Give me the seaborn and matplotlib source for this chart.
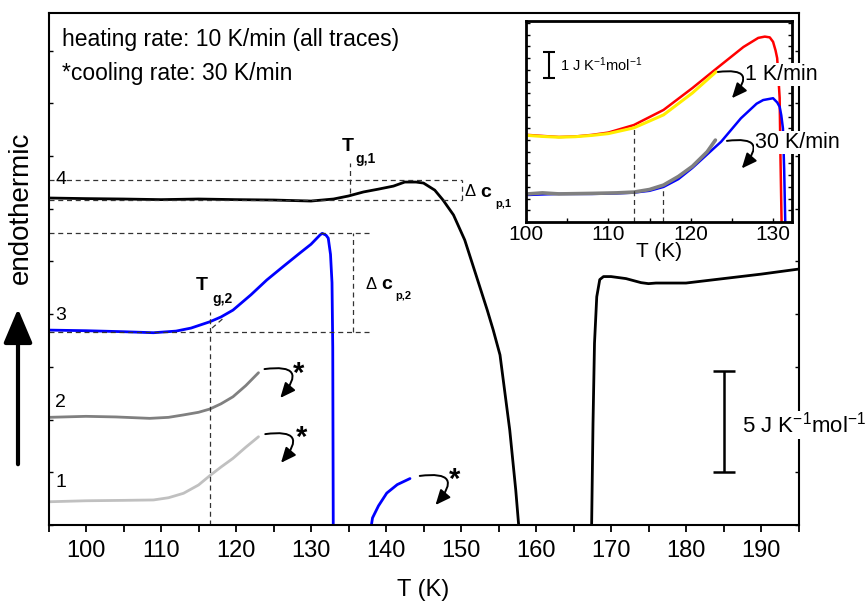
import numpy as np
import matplotlib
matplotlib.use("Agg")
import matplotlib.pyplot as plt
from matplotlib.ticker import MultipleLocator
import seaborn as sns

# ---- main panel data (T in K, y in J K^-1 mol^-1, arbitrary offsets) ----
t4a = [95, 100, 105, 110, 115, 120, 125, 130, 133, 135, 137, 139, 141, 142.5, 144, 145,
       146.5, 147.6, 149, 150.5, 152, 153.5, 154.3, 155.2, 156.5, 157.3, 157.8]
y4a = [16.19, 16.16, 16.14, 16.11, 16.14, 16.11, 16.09, 16.04, 16.14, 16.29, 16.49, 16.63,
       16.78, 16.98, 16.98, 16.93, 16.58, 16.09, 15.35, 14.11, 12.38, 10.64, 9.65, 8.42,
       4.70, 1.73, -0.5]
t4b = [167.4, 167.6, 167.8, 168.1, 168.5, 169, 170, 172, 174, 175, 176, 180, 185, 190, 195]
y4b = [-0.5, 5.0, 9.0, 11.3, 12.15, 12.3, 12.3, 12.2, 12.0, 11.95, 11.98, 11.98, 12.2, 12.42, 12.67]

t3a = [95, 100, 105, 109, 112, 114, 116.5, 118, 119.6, 122, 124.1, 126.3, 128.5, 130,
       131.2, 131.5, 132.0, 132.3, 132.6, 132.8, 132.9, 132.97]
y3a = [9.65, 9.62, 9.57, 9.52, 9.6, 9.75, 10.06, 10.3, 10.64, 11.4, 12.13, 12.8, 13.46,
       13.9, 14.36, 14.44, 14.35, 14.2, 13.4, 12.0, 8.8, -0.5]
t3b = [137.85, 138.2, 139, 140.1, 141.5, 143.2]
y3b = [-0.5, 0.35, 0.95, 1.58, 2.0, 2.3]

t2 = [95, 100, 104, 108.5, 111, 113, 115, 116.5, 118, 119.6, 121.3, 123]
y2 = [5.33, 5.38, 5.35, 5.28, 5.33, 5.45, 5.58, 5.74, 6.0, 6.35, 6.9, 7.54]
t1 = [95, 100, 105, 109, 111, 113, 115, 116.5, 118, 119.6, 121.3, 123]
y1 = [1.15, 1.2, 1.22, 1.24, 1.35, 1.57, 1.98, 2.44, 2.87, 3.30, 3.85, 4.37]

tg1, tg2 = 135.2, 116.5
dcp1_lo, dcp1_hi = 16.09, 17.08
dcp2_lo, dcp2_hi = 9.54, 14.46

# ---- inset data ----
ti_red = [100.2, 102, 104, 106, 108, 110, 113.1, 116.7, 120.2, 123.2, 126.4, 128.2, 129.0,
          129.6, 130.0, 130.3, 130.5, 130.7, 130.8, 130.9, 131.05]
yi_red = [3.35, 3.31, 3.27, 3.29, 3.35, 3.44, 3.73, 4.31, 5.15, 5.92, 6.73, 7.08, 7.13,
          7.1, 6.93, 6.6, 6.3, 5.3, 4.77, 2.5, -0.3]
ti_yel = [100.2, 102, 104, 106, 108, 110, 113.1, 116.7, 120.2, 123.1]
yi_yel = [3.33, 3.29, 3.26, 3.28, 3.33, 3.4, 3.62, 4.12, 4.96, 5.78]
ti_blu = [100.2, 102, 104, 108, 111, 113.1, 115, 116.7, 118.5, 120.2, 122, 123.7, 126.1,
          128.0, 128.8, 130.0, 130.5, 130.8, 131.0, 131.2, 131.35, 131.5]
yi_blu = [1.04, 1.06, 1.08, 1.08, 1.1, 1.13, 1.2, 1.35, 1.65, 2.08, 2.6, 3.09, 3.99,
          4.55, 4.69, 4.76, 4.6, 4.43, 4.1, 3.6, 2.0, -0.3]
ti_gry = [100.2, 102, 104, 108, 111, 113.1, 115, 116.7, 118.5, 120.2, 122, 123]
yi_gry = [1.08, 1.12, 1.08, 1.1, 1.12, 1.15, 1.25, 1.42, 1.75, 2.14, 2.7, 3.15]
tgi_1, tgi_30 = 113.1, 116.6

sns.set_style("ticks")
plt.rcParams["font.family"] = ["Liberation Sans", "DejaVu Sans"]
plt.rcParams["mathtext.fontset"] = "custom"
plt.rcParams["mathtext.rm"] = "Liberation Sans"
plt.rcParams["mathtext.it"] = "Liberation Sans:italic"
plt.rcParams["mathtext.bf"] = "Liberation Sans:bold"
for k in ["text.color", "axes.labelcolor", "xtick.color", "ytick.color", "axes.edgecolor"]:
    plt.rcParams[k] = "black"

fig = plt.figure(figsize=(8.68, 6.03), dpi=100)
ax = fig.add_axes([48.5 / 868, 78 / 603, 750 / 868, 512 / 603])

kw = dict(ax=ax, sort=False, estimator=None, legend=False)
sns.lineplot(x=t4a, y=y4a, color="black", lw=2.0, **kw)
sns.lineplot(x=t4b, y=y4b, color="black", lw=2.0, **kw)
sns.lineplot(x=t3a, y=y3a, color="#0000ff", lw=2.0, **kw)
sns.lineplot(x=t3b, y=y3b, color="#0000ff", lw=2.0, **kw)
sns.lineplot(x=t2, y=y2, color="#808080", lw=2.0, **kw)
sns.lineplot(x=t1, y=y1, color="#c0c0c0", lw=2.0, **kw)

dk = dict(color="#333333", lw=0.9, ls=(0, (4, 3)))
ax.plot([95, 150.1], [dcp1_hi, dcp1_hi], **dk)
ax.plot([95, 150.1], [dcp1_lo, dcp1_lo], **dk)
ax.plot([150.1, 150.1], [dcp1_lo, dcp1_hi], **dk)
ax.plot([tg1, tg1], [16.44, 17.92], **dk)
ax.plot([95, 137.9], [dcp2_hi, dcp2_hi], **dk)
ax.plot([95, 137.9], [dcp2_lo, dcp2_lo], **dk)
ax.plot([135.6, 135.6], [dcp2_lo, dcp2_hi], **dk)
ax.plot([tg2, tg2], [0, 10.54], **dk)
ax.plot([116.8, 118.2], [9.75, 10.2], **dk)

ax.set_xlim(95, 195)
ax.set_ylim(0, 25.35)
ax.xaxis.set_major_locator(MultipleLocator(10))
ax.xaxis.set_minor_locator(MultipleLocator(5))
ax.yaxis.set_major_locator(MultipleLocator(2.61))
ax.tick_params(axis="x", which="both", direction="out", length=5, width=1.3,
               labelsize=17, pad=6)
ax.tick_params(axis="y", which="both", direction="in", length=3, width=1.0,
               left=True, right=True, labelleft=False)
for s in ax.spines.values():
    s.set_linewidth(1.5)
    s.set_visible(True)
ax.set_xlabel("T (K)", fontsize=17, labelpad=12)

# trace numbers
for lab, yy in [("4", 17.1), ("3", 10.35), ("2", 6.05), ("1", 2.1)]:
    ax.text(96.6, yy, lab, fontsize=14, ha="center", va="center")

# Tg and delta cp labels
ax.text(134.9, 18.74, "T", fontsize=14, fontweight="bold", ha="center", va="center")
ax.text(135.9, 18.12, "g,1", fontsize=10, fontweight="bold", ha="left", va="center")
ax.text(115.5, 11.85, "T", fontsize=14, fontweight="bold", ha="center", va="center")
ax.text(116.8, 11.2, "g,2", fontsize=10, fontweight="bold", ha="left", va="center")
ax.text(150.5, 16.49, "Δ", fontsize=12, ha="left", va="center")
ax.text(152.6, 16.45, "c", fontsize=14, fontweight="bold", ha="left", va="center")
ax.text(154.6, 15.9, "p,1", fontsize=8, fontweight="bold", ha="left", va="center")
ax.text(137.2, 11.93, "Δ", fontsize=12, ha="left", va="center")
ax.text(139.3, 11.9, "c", fontsize=14, fontweight="bold", ha="left", va="center")
ax.text(141.2, 11.34, "p,2", fontsize=8, fontweight="bold", ha="left", va="center")

# curved arrows with stars
ap = dict(arrowstyle="-|>,head_length=0.5,head_width=0.22",
          connectionstyle="arc3,rad=-1.3", lw=1.4, color="black",
          mutation_scale=18, shrinkA=0, shrinkB=0)
for (xs, ys), (xe, ye), (xst, yst) in [((123.8, 7.72), (125.9, 6.29), (128.3, 7.5)),
                                      ((123.9, 4.5), (126.0, 3.08), (128.8, 4.3)),
                                      ((144.5, 2.43), (146.6, 0.99), (149.2, 2.25))]:
    ax.annotate("", xy=(xe, ye), xytext=(xs, ys), arrowprops=ap)
    ax.text(xst, yst, "*", fontsize=21, fontweight="bold", ha="center", va="center")

# notes
ax.text(0.018, 0.935, "heating rate: 10 K/min (all traces)", transform=ax.transAxes,
        fontsize=16.5, ha="left", va="baseline")
ax.text(0.018, 0.87, "*cooling rate: 30 K/min", transform=ax.transAxes,
        fontsize=16.5, ha="left", va="baseline")

# scale bar
ax.errorbar([185], [5.12], yerr=[2.5], color="black", lw=1.8, capsize=8, capthick=1.8)
ax.text(187.5, 4.95, "5 J K$^{-1}$mol$^{-1}$", fontsize=16, ha="left", va="center",
        clip_on=False, zorder=10,
        bbox=dict(facecolor="white", edgecolor="none", pad=1))

# endothermic arrow + label
fig.text(21 / 868, 1 - 208 / 603, "endothermic", rotation=90, fontsize=20,
         ha="center", va="center")
fig.add_artist(matplotlib.patches.FancyArrowPatch(
    (18 / 868, 1 - 467 / 603), (18 / 868, 1 - 306 / 603), transform=fig.transFigure,
    arrowstyle="-|>,head_length=1.3,head_width=0.55", mutation_scale=16, lw=3,
    color="black"))

# ---- inset ----
ins = fig.add_axes([526 / 868, 1 - 222 / 603, 266 / 868, 201 / 603])
ins.set_facecolor("white")
ikw = dict(ax=ins, sort=False, estimator=None, legend=False)
sns.lineplot(x=ti_red, y=yi_red, color="#ff0000", lw=1.8, **ikw)
sns.lineplot(x=ti_yel, y=yi_yel, color="#ffee00", lw=2.2, **ikw)
sns.lineplot(x=ti_blu, y=yi_blu, color="#0000ff", lw=1.8, **ikw)
sns.lineplot(x=ti_gry, y=yi_gry, color="#808080", lw=2.6, **ikw)
ins.plot([tgi_1, tgi_1], [0, 3.62], **dk)
ins.plot([tgi_30, tgi_30], [0, 1.35], **dk)
ins.set_xlim(100, 132.3)
ins.set_ylim(0, 7.73)
ins.xaxis.set_major_locator(MultipleLocator(10))
ins.xaxis.set_minor_locator(MultipleLocator(5))
ins.yaxis.set_major_locator(MultipleLocator(0.45))
ins.tick_params(axis="x", which="both", direction="in", length=3, width=1.0,
                labelsize=15, pad=2, top=False)
ins.tick_params(axis="y", which="both", direction="in", length=3, width=1.0,
                left=True, right=True, labelleft=False)
for s in ins.spines.values():
    s.set_linewidth(2)
    s.set_visible(True)
ins.set_xlabel("T (K)", fontsize=15, labelpad=-1)

ins.errorbar([102.8], [6.04], yerr=[0.5], color="black", lw=1.5, capsize=4, capthick=1.5)
ins.text(104.1, 6.04, "1 J K$^{-1}$mol$^{-1}$", fontsize=10.5, ha="left", va="center")
iap = dict(arrowstyle="-|>,head_length=0.5,head_width=0.22",
           connectionstyle="arc3,rad=-1.3", lw=1.4, color="black",
           mutation_scale=18, shrinkA=0, shrinkB=0)
ins.annotate("", xy=(125.0, 4.76), xytext=(123.3, 5.77), arrowprops=iap)
ins.annotate("", xy=(126.2, 2.06), xytext=(124.4, 3.12), arrowprops=iap)
ins.text(126.6, 5.67, "1 K/min", fontsize=15.5, ha="left", va="center", clip_on=False,
         zorder=10, bbox=dict(facecolor="white", edgecolor="none", pad=0.5))
ins.text(127.8, 3.06, "30 K/min", fontsize=15.5, ha="left", va="center", clip_on=False,
         zorder=10, bbox=dict(facecolor="white", edgecolor="none", pad=0.5))

fig.savefig("out.png", dpi=100)
